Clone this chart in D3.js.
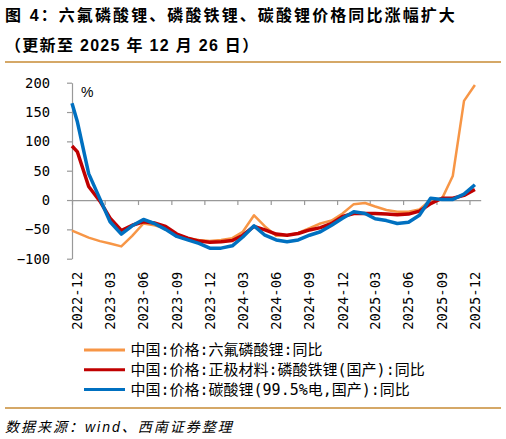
<!DOCTYPE html>
<html>
<head>
<meta charset="utf-8">
<script src="https://cdn.jsdelivr.net/npm/d3@7"></script>
<style>
  body { margin: 0; background: #fff; }
  svg { display: block; }
</style>
</head>
<body>
<div id="chart"></div>
<script>
'use strict';

// first point is the start of the series, then one value per month (mid-month)
var dates = ['2022-12-01', '2022-12-16',
    '2023-01-16', '2023-02-16', '2023-03-16', '2023-04-16', '2023-05-16', '2023-06-16',
    '2023-07-16', '2023-08-16', '2023-09-16', '2023-10-16', '2023-11-16', '2023-12-16',
    '2024-01-16', '2024-02-16', '2024-03-16', '2024-04-16', '2024-05-16', '2024-06-16',
    '2024-07-16', '2024-08-16', '2024-09-16', '2024-10-16', '2024-11-16', '2024-12-16',
    '2025-01-16', '2025-02-16', '2025-03-16', '2025-04-16', '2025-05-16', '2025-06-16',
    '2025-07-16', '2025-08-16', '2025-09-16', '2025-10-16', '2025-11-16', '2025-12-16'];

var lipf6 = [-52, -56, -64, -70, -74, -79, -61, -40, -43, -48, -58, -65, -68, -70, -68, -65, -54, -26, -45,
    -61, -60, -56, -48, -40, -35, -23, -7, -5, -11, -17, -20, -20, -16, 0, 2, 41, 169, 196];
var lfp = [92, 82, 23, -2, -31, -52, -43, -37, -39, -45, -58, -65, -70, -72, -71, -69, -60, -45, -51,
    -58, -60, -57, -51, -47, -40, -28, -23, -23, -23, -24, -25, -24, -19, -6, 3, 3, 8, 18];
var li2co3 = [165, 133, 45, 2, -37, -58, -44, -33, -40, -50, -62, -68, -74, -82, -82, -78, -63, -44, -60,
    -68, -71, -68, -60, -54, -43, -31, -20, -23, -32, -35, -40, -38, -26, 3, 1, 1, 10, 26];

var tickMonths = ['2022-12', '2023-03', '2023-06', '2023-09', '2023-12', '2024-03', '2024-06',
    '2024-09', '2024-12', '2025-03', '2025-06', '2025-09', '2025-12'];
var yTicks = [-100, -50, 0, 50, 100, 150, 200];

var seriesNames = ['中国:价格:六氟磷酸锂:同比',
    '中国:价格:正极材料:磷酸铁锂(国产):同比',
    '中国:价格:碳酸锂(99.5%电,国产):同比'];
var seriesColors = ['#F79646', '#C00000', '#0070C0'];
var seriesWidths = [2.5, 3.5, 3.5];

function lineChart()
{
    var scope = this;
    var exports = {};

    scope.width = 506;
    scope.height = 439;
    scope.plot = {left: 72, right: 480.7, top: 82.7, bottom: 258.7};

    scope.xScale = undefined;
    scope.yScale = undefined;

    var parseDay = d3.timeParse('%Y-%m-%d');
    var parseMonth = d3.timeParse('%Y-%m');
    var cjk = '"Liberation Sans", "Noto Sans CJK SC", sans-serif';
    var mono = '"DejaVu Sans Mono", "Noto Sans CJK SC", monospace';

    scope.appendSvg = function(div)
    {
        return d3.select(div).append('svg')
            .attr('width', scope.width)
            .attr('height', scope.height);
    }

    scope.createHeader = function(svg)
    {
        svg.append('text')
            .attr('x', 5).attr('y', 21)
            .style('font-family', cjk).style('font-size', '16px').style('font-weight', 'bold')
            .style('letter-spacing', '2.1px')
            .text('图 4：六氟磷酸锂、磷酸铁锂、碳酸锂价格同比涨幅扩大');

        svg.append('text')
            .attr('x', 5).attr('y', 51)
            .style('font-family', cjk).style('font-size', '16px').style('font-weight', 'bold')
            .style('letter-spacing', '1.3px')
            .text('（更新至 2025 年 12 月 26 日）');

        svg.append('line')
            .attr('x1', 5).attr('x2', 501).attr('y1', 62).attr('y2', 62)
            .style('stroke', '#D5A867').style('stroke-width', 2);

        svg.append('line')
            .attr('x1', 5).attr('x2', 501).attr('y1', 408).attr('y2', 408)
            .style('stroke', '#D5A867').style('stroke-width', 2);

        svg.append('text')
            .attr('x', 5).attr('y', 432)
            .style('font-family', cjk).style('font-size', '14px').style('font-style', 'italic')
            .style('letter-spacing', '2px')
            .text('数据来源：wind、西南证券整理');
    }

    scope.createAxes = function(svg)
    {
        var p = scope.plot;
        scope.xScale = d3.scaleTime()
            .domain([parseDay('2022-12-01'), parseDay('2026-01-01')])
            .range([p.left, p.right]);
        scope.yScale = d3.scaleLinear().domain([-100, 200]).range([p.bottom, p.top]);

        var xAxis = d3.axisBottom(scope.xScale)
            .tickValues(tickMonths.map(parseMonth))
            .tickSize(5).tickSizeOuter(0).tickFormat('');
        var gx = svg.append('g')
            .attr('transform', 'translate(0,' + scope.yScale(0) + ')')
            .call(xAxis);
        gx.selectAll('path, line').style('stroke', '#999').style('stroke-width', 1.2);

        var yAxis = d3.axisLeft(scope.yScale)
            .tickValues(yTicks).tickSize(5).tickSizeOuter(0).tickPadding(17);
        var gy = svg.append('g')
            .attr('transform', 'translate(' + p.left + ',0)')
            .call(yAxis);
        gy.selectAll('path, line').style('stroke', '#999').style('stroke-width', 1.2);
        gy.selectAll('text')
            .style('font-family', mono).style('font-size', '13.8px').style('fill', '#000');

        // month labels sit in the middle of their month, under the plot
        svg.append('g').selectAll('text')
            .data(tickMonths)
            .enter()
            .append('text')
            .attr('transform', function(d) {
                var m = parseMonth(d);
                var mid = (scope.xScale(m) + scope.xScale(d3.timeMonth.offset(m, 1))) / 2;
                return 'translate(' + mid + ',' + (p.bottom + 13) + ') rotate(-90)';
            })
            .attr('dy', '0.35em')
            .style('text-anchor', 'end')
            .style('font-family', mono).style('font-size', '13.8px')
            .text(function(d) { return d; });

        svg.append('text')
            .attr('x', 81).attr('y', 97)
            .style('font-family', '"Liberation Sans", sans-serif').style('font-size', '14px')
            .text('%');
    }

    scope.appendLines = function(svg)
    {
        var all = [lipf6, lfp, li2co3];
        var line = d3.line()
            .x(function(d) { return scope.xScale(d.date); })
            .y(function(d) { return scope.yScale(d.value); });

        all.forEach(function(values, s) {
            var pts = values.map(function(v, i) { return {date: parseDay(dates[i]), value: v}; });
            svg.append('path')
                .datum(pts)
                .attr('d', line)
                .style('fill', 'none')
                .style('stroke', seriesColors[s])
                .style('stroke-width', seriesWidths[s])
                .style('stroke-linejoin', 'round');
        });
    }

    scope.createLegend = function(svg)
    {
        var rows = svg.append('g').selectAll('g')
            .data(seriesNames)
            .enter()
            .append('g')
            .attr('transform', function(d, i) { return 'translate(84,' + (350 + i * 19.7) + ')'; });

        rows.append('line')
            .attr('x1', 0).attr('x2', 41)
            .style('stroke', function(d, i) { return seriesColors[i]; })
            .style('stroke-width', 3);

        rows.append('text')
            .attr('x', 46.5).attr('dy', '0.36em')
            .style('font-family', mono).style('font-size', '15px')
            .text(function(d) { return d; });
    }

    exports.run = function(div)
    {
        var svg = scope.appendSvg(div);
        scope.createHeader(svg);
        scope.createAxes(svg);
        scope.appendLines(svg);
        scope.createLegend(svg);
    }

    return exports;
}

var chart = new lineChart();
chart.run('#chart');
</script>
</body>
</html>
